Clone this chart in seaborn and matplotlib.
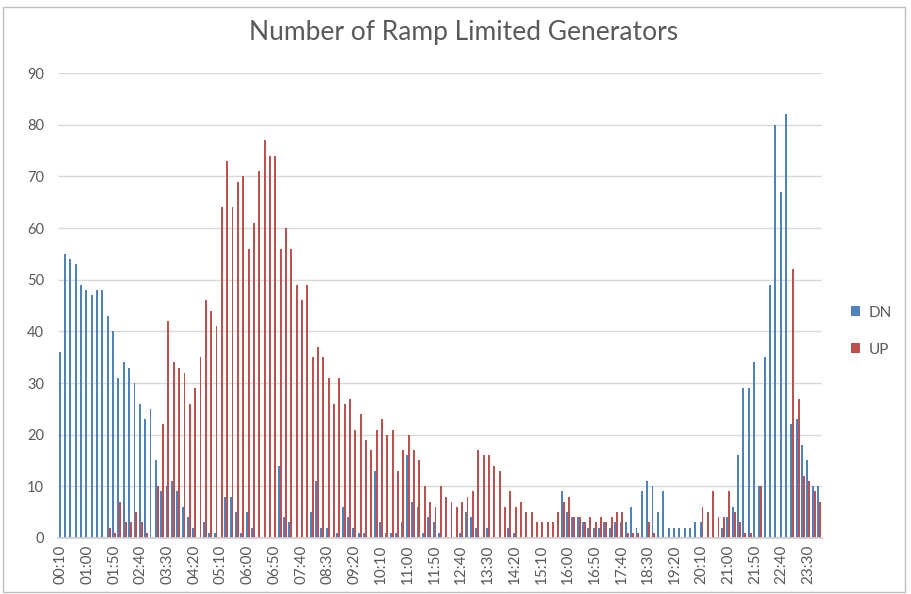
import numpy as np
import pandas as pd
import matplotlib
matplotlib.use("Agg")
import matplotlib.pyplot as plt
import matplotlib.patches as patches
import seaborn as sns

# time slots every 10 minutes, 00:10 .. 23:50
times = [f"{(10 + 10 * k) // 60:02d}:{(10 + 10 * k) % 60:02d}" for k in range(143)]

# DN (ramp down limited) counts
dn = [36, 55, 54, 53, 49, 48, 47, 48, 48, 43,
      40, 31, 34, 33, 30, 26, 23, 25, 15, 9,
      10, 11, 9, 6, 4, 2, 0, 3, 1, 1,
      0, 8, 8, 5, 1, 5, 2, 0, 0, 0,
      0, 14, 4, 3, 0, 0, 0, 5, 11, 2,
      2, 0, 1, 6, 4, 2, 1, 1, 0, 13,
      3, 1, 1, 1, 3, 16, 7, 6, 1, 4,
      3, 1, 0, 0, 0, 1, 5, 4, 2, 0,
      2, 0, 0, 0, 2, 1, 0, 0, 0, 0,
      0, 0, 0, 0, 9, 5, 4, 4, 3, 2,
      2, 2, 3, 2, 3, 3, 3, 6, 2, 9,
      11, 10, 5, 9, 2, 2, 2, 2, 2, 3,
      3, 0, 0, 0, 2, 4, 6, 16, 29, 29,
      34, 10, 35, 49, 80, 67, 82, 22, 23, 18,
      15, 10, 10]

# UP (ramp up limited) counts
up = [0, 0, 0, 0, 0, 0, 0, 0, 0, 2,
      1, 7, 3, 3, 5, 3, 1, 0, 10, 22,
      42, 34, 33, 32, 26, 29, 35, 46, 44, 41,
      64, 73, 64, 69, 70, 56, 61, 71, 77, 74,
      74, 56, 60, 56, 49, 46, 49, 35, 37, 35,
      31, 26, 31, 26, 27, 21, 24, 19, 17, 21,
      23, 20, 21, 13, 17, 20, 17, 15, 10, 7,
      6, 10, 8, 7, 6, 7, 8, 9, 17, 16,
      16, 14, 13, 6, 9, 6, 7, 5, 5, 3,
      3, 3, 3, 5, 7, 8, 4, 4, 3, 4,
      3, 4, 3, 4, 5, 5, 1, 1, 1, 0,
      3, 1, 0, 0, 0, 0, 0, 0, 0, 0,
      6, 5, 9, 4, 4, 9, 5, 3, 1, 1,
      0, 10, 0, 0, 0, 0, 0, 52, 27, 12,
      11, 9, 7]

series_names = ["DN", "UP"]
series_colors = ["#4F81BD", "#C0504D"]

df = pd.DataFrame({
    "time": times * 2,
    "count": dn + up,
    "series": ["DN"] * len(dn) + ["UP"] * len(up),
})

sns.set_theme(style="white")
plt.rcParams["font.family"] = ["Lato", "DejaVu Sans"]

fig = plt.figure(figsize=(9.12, 5.94), dpi=100)
ax = fig.add_axes([0.0636, 0.0943, 0.8374, 0.7827])

sns.barplot(data=df, x="time", y="count", hue="series", hue_order=series_names,
            palette=series_colors, saturation=1, width=0.72, linewidth=0,
            errorbar=None, ax=ax)

ax.set_ylim(0, 90)
ax.set_yticks(range(0, 91, 10))
ax.set_xlim(-0.5, len(times) - 0.5)
ax.set_xticks(range(0, len(times), 5))
ax.set_xticklabels(times[::5], rotation=90)
ax.tick_params(axis="x", labelsize=11, colors="#595959", length=0, pad=5)
ax.tick_params(axis="y", labelsize=10.5, colors="#595959", length=0, pad=10)
ax.yaxis.grid(True, color="#D9D9D9", linewidth=1)
ax.set_axisbelow(True)
for side in ["top", "right", "left"]:
    ax.spines[side].set_visible(False)
ax.spines["bottom"].set_color("#D0D0D0")
ax.set_xlabel("")
ax.set_ylabel("")

handles, labels = ax.get_legend_handles_labels()
ax.legend(handles, labels, loc="center left", bbox_to_anchor=(1.02, 0.445),
          frameon=False, handlelength=0.6, handleheight=0.6, labelspacing=1.5,
          fontsize=11, labelcolor="#595959", handletextpad=0.6)

fig.text(0.508, 0.945, "Number of Ramp Limited Generators", ha="center", va="center",
         fontsize=19, color="#595959")

fig.patches.append(patches.Rectangle((3 / 912, 0.003), 902 / 912, 0.985,
                                     transform=fig.transFigure, fill=False,
                                     edgecolor="#BFBFBF", linewidth=1))

fig.savefig("out.png", dpi=100, facecolor="white")
